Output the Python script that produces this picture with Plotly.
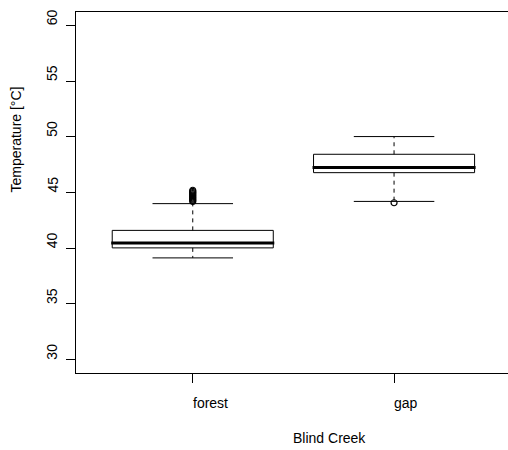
import plotly.graph_objects as go

# Summary statistics per site (°C)
groups = ["forest", "gap"]
lower_whisker = [39.13, 44.2]
q1 = [40.03, 46.78]
median = [40.47, 47.25]
q3 = [41.6, 48.43]
upper_whisker = [44.0, 50.02]
forest_outliers = [44.2, 44.3, 44.4, 44.5, 44.6, 44.7, 44.8, 44.9, 45.0, 45.1, 45.2]
gap_outliers = [44.08]
outliers = [forest_outliers, gap_outliers]

y_ticks = [30, 35, 40, 45, 50, 55, 60]
y_title = "Temperature [°C]"
x_title = "Blind Creek"

FONT = "Liberation Sans, Arial, sans-serif"
FS = 14
BOX_HALF = 0.4
CAP_HALF = 0.2

fig = go.Figure()

for i, name in enumerate(groups):
    xc = i + 1
    # box outline
    fig.add_trace(go.Scatter(
        x=[xc - BOX_HALF, xc + BOX_HALF, xc + BOX_HALF, xc - BOX_HALF, xc - BOX_HALF],
        y=[q1[i], q1[i], q3[i], q3[i], q1[i]],
        mode="lines", line=dict(color="black", width=1), hoverinfo="skip"))
    # median
    fig.add_trace(go.Scatter(
        x=[xc - BOX_HALF - 0.005, xc + BOX_HALF + 0.005], y=[median[i], median[i]],
        mode="lines", line=dict(color="black", width=3), hoverinfo="skip"))
    # dashed whiskers
    for a, b in [(q3[i], upper_whisker[i]), (q1[i], lower_whisker[i])]:
        fig.add_trace(go.Scatter(
            x=[xc, xc], y=[a, b], mode="lines",
            line=dict(color="black", width=1, dash="4px,4px"), hoverinfo="skip"))
    # whisker caps
    for w in [upper_whisker[i], lower_whisker[i]]:
        fig.add_trace(go.Scatter(
            x=[xc - CAP_HALF, xc + CAP_HALF], y=[w, w], mode="lines",
            line=dict(color="black", width=1), hoverinfo="skip"))
    # outliers
    fig.add_trace(go.Scatter(
        x=[xc] * len(outliers[i]), y=outliers[i], mode="markers",
        marker=dict(symbol="circle-open", size=6, color="black", line=dict(width=1.2)),
        hoverinfo="skip"))

annotations = []
# category labels start at their tick
for i, name in enumerate(groups):
    annotations.append(dict(
        x=i + 1, y=0, xref="x", yref="paper", text=name, showarrow=False,
        xanchor="left", yanchor="top", yshift=-20, xshift=-2,
        font=dict(family=FONT, size=FS, color="black")))
# value labels, rotated, starting at their tick
for v in y_ticks:
    annotations.append(dict(
        x=0, y=v, xref="paper", yref="y", text=str(v), showarrow=False,
        textangle=-90, xanchor="right", yanchor="bottom", xshift=-14, yshift=-2,
        font=dict(family=FONT, size=FS, color="black")))
annotations.append(dict(
    x=1.5, y=0, xref="x", yref="paper", text=x_title, showarrow=False,
    xanchor="left", yanchor="top", yshift=-55, xshift=-2,
    font=dict(family=FONT, size=FS, color="black")))
annotations.append(dict(
    x=0, y=45, xref="paper", yref="y", text=y_title, showarrow=False,
    textangle=-90, xanchor="right", yanchor="bottom", xshift=-51, yshift=-2,
    font=dict(family=FONT, size=FS, color="black")))

fig.update_layout(
    width=508, height=450,
    margin=dict(l=76, r=0, t=12, b=77),
    paper_bgcolor="white", plot_bgcolor="white",
    showlegend=False,
    annotations=annotations,
    xaxis=dict(range=[0.42, 2.566], tickvals=[1, 2], showticklabels=False,
               ticks="outside", ticklen=9, tickcolor="black", tickwidth=1,
               showline=True, linecolor="black", linewidth=1, mirror=True,
               showgrid=False, zeroline=False, fixedrange=True),
    yaxis=dict(range=[28.8, 61.2], tickvals=y_ticks, showticklabels=False,
               ticks="outside", ticklen=9, tickcolor="black", tickwidth=1,
               showline=True, linecolor="black", linewidth=1, mirror=False,
               showgrid=False, zeroline=False, fixedrange=True),
)

fig.write_html("out.html")
